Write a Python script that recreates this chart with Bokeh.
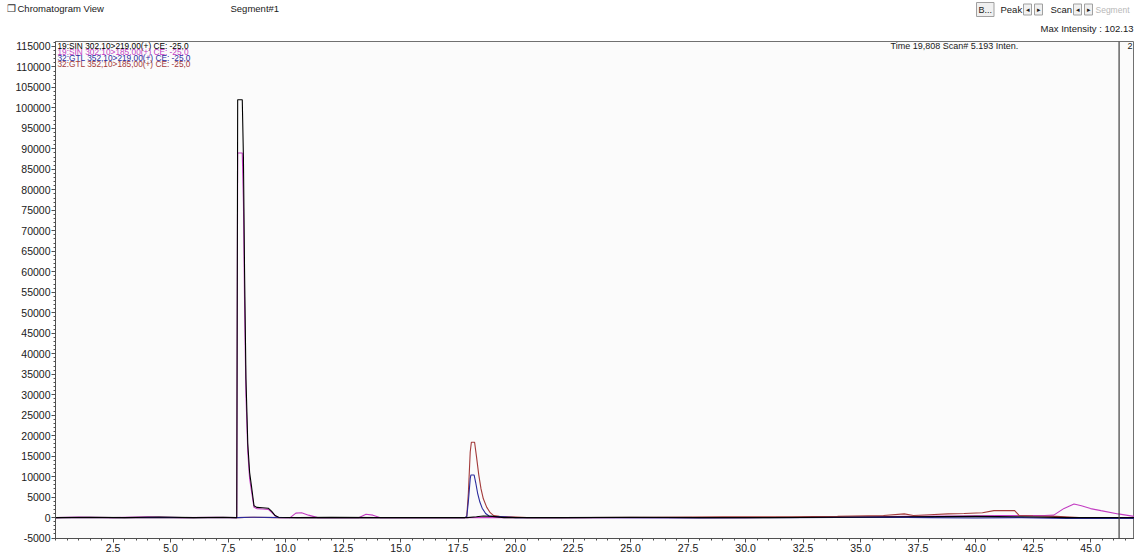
from bokeh.plotting import figure
from bokeh.models import Range1d, FixedTicker, NumeralTickFormatter, Label, Span
from bokeh.embed import file_html
from bokeh.resources import INLINE

# ---------------- data ----------------
sin219_time = [0.0, 1.5, 3.0, 4.5, 6.0, 7.3, 7.88, 7.92, 8.12, 8.17, 8.22, 8.28, 8.36, 8.44, 8.52,
               8.63, 8.75, 9.0, 9.25, 9.4, 9.55, 9.7, 10.5, 12.0, 14.0, 16.0, 17.9, 18.3, 18.6,
               19.0, 19.5, 22.0, 25.0, 28.0, 31.0, 34.0, 37.0, 40.0, 42.0, 44.0, 46.9]
sin219_int = [0, 100, 0, 150, 0, 100, 0, 102000, 102000, 88000, 60000, 34000, 18000, 11000, 7700,
              2900, 2500, 2400, 2300, 1500, 500, 100, 0, 50, 0, 0, 0, 200, 400,
              300, 0, 0, 100, 0, 0, 100, 200, 300, 200, 0, 0]

sin185_time = [0.0, 1.0, 2.5, 4.0, 5.5, 7.0, 7.88, 7.92, 8.12, 8.17, 8.22, 8.28, 8.36, 8.44, 8.52,
               8.63, 8.75, 9.0, 9.25, 9.4, 9.55, 9.7, 10.2, 10.45, 10.7, 11.0, 11.4, 13.2, 13.5,
               13.8, 14.1, 16.0, 17.9, 19.0, 22.0, 26.0, 30.0, 34.0, 37.0, 39.0, 41.0, 42.5, 43.0,
               43.4, 43.85, 44.28, 44.6, 45.0, 45.45, 46.2, 46.9]
sin185_int = [0, 150, 0, 200, 0, 100, 0, 89000, 89000, 77000, 52000, 30000, 16000, 9500, 6500,
              2500, 2200, 2100, 2000, 1300, 400, 0, 0, 1100, 1200, 600, 0, 0, 800,
              600, 0, 0, 0, 0, 0, 0, 0, 100, 300, 400, 500, 500, 500,
              600, 2250, 3300, 2900, 2200, 1700, 900, 300]

gtl219_time = [0.0, 1.0, 2.0, 5.0, 7.9, 8.5, 10.0, 14.0, 17.8, 17.88, 17.95, 18.03, 18.06, 18.2,
               18.27, 18.35, 18.45, 18.55, 18.7, 18.85, 19.0, 19.5, 20.0, 24.0, 28.0, 32.0, 36.0,
               38.0, 40.0, 42.0, 44.0, 46.9]
gtl219_int = [0, 0, 0, 0, 0, 100, 0, 0, 0, 200, 4000, 9500, 10400, 10400,
              8500, 6000, 3800, 2300, 1000, 400, 300, 200, 0, 0, -100, 0, 100,
              0, -100, 0, -200, -200]

gtl185_time = [0.0, 3.0, 6.0, 7.9, 8.6, 9.5, 12.0, 15.0, 17.8, 17.88, 17.95, 18.03, 18.08, 18.22,
               18.3, 18.4, 18.5, 18.6, 18.75, 18.9, 19.05, 19.3, 19.8, 20.5, 23.0, 26.0, 29.0,
               32.0, 34.0, 36.0, 36.9, 37.3, 38.0, 38.8, 39.5, 40.3, 40.8, 41.7, 41.9, 42.5, 43.5,
               44.5, 46.9]
gtl185_int = [0, 0, 0, 0, 100, 0, 0, 0, 0, 300, 6000, 16000, 18400, 18400,
              15000, 10500, 7000, 4600, 2500, 1200, 500, 300, 200, 0, 0, 100, 200,
              200, 300, 500, 900, 500, 700, 900, 1000, 1200, 1700, 1700, 500, 400, 300,
              0, 0]

trace_labels = ["19:SIN 302,10>219,00(+) CE: -25,0",
                "19:SIN 302,10>185,00(+) CE: -25,0",
                "32:GTL 352,10>219,00(+) CE: -25,0",
                "32:GTL 352,10>185,00(+) CE: -25,0"]
trace_colors = ["#000000", "#c23cc2", "#2a2a9c", "#a33a3a"]

x_major_ticks = [2.5, 5.0, 7.5, 10.0, 12.5, 15.0, 17.5, 20.0, 22.5, 25.0, 27.5, 30.0, 32.5,
                 35.0, 37.5, 40.0, 42.5, 45.0]
y_major_ticks = [-5000, 0, 5000, 10000, 15000, 20000, 25000, 30000, 35000, 40000, 45000, 50000,
                 55000, 60000, 65000, 70000, 75000, 80000, 85000, 90000, 95000, 100000, 105000,
                 110000, 115000]

cursor_time = 46.24

FONT = "Liberation Sans"
W = 1134
HEAD_H = 41

# ---------------- header strip (separate root, full width frame) ----------------
h = figure(width=W, height=HEAD_H, output_backend="svg", toolbar_location=None,
           x_range=Range1d(0, W), y_range=Range1d(HEAD_H, 0),
           x_axis_type=None, y_axis_type=None,
           min_border_left=0, min_border_right=0, min_border_top=0, min_border_bottom=0)
h.outline_line_color = None
h.background_fill_color = "#ffffff"
h.border_fill_color = "#ffffff"
h.grid.visible = False


def htxt(text, X, Y, size="9.5px", color="#202020", align="left", **kw):
    h.add_layout(Label(x=X, y=Y, text=text, text_font=FONT, text_font_size=size,
                       text_color=color, text_align=align, text_baseline="middle", **kw))


box = dict(border_line_color="#a0a0a0", background_fill_color="#f0f0f0", padding=2)
htxt("\u2750", 6, 8, size="10px", color="#303030")
htxt("Chromatogram View", 17, 8)
htxt("Segment#1", 230, 8)
htxt("B...", 976, 9, size="9px", **box)
htxt("Peak", 1000, 9)
htxt("\u25c2", 1023, 9, size="7px", **box)
htxt("\u25b8", 1034, 9, size="7px", **box)
htxt("Scan", 1050, 9)
htxt("\u25c2", 1073, 9, size="7px", **box)
htxt("\u25b8", 1084, 9, size="7px", **box)
htxt("Segment", 1095, 9, size="8.5px", color="#b8b8b8")
htxt("Max Intensity : 102.13", W - 1, 28, align="right")

# ---------------- main chart ----------------
p = figure(width=W, height=554 - HEAD_H, output_backend="svg", toolbar_location=None,
           x_range=Range1d(0, 46.91), y_range=Range1d(-5100, 116200),
           min_border_left=55, min_border_right=0, min_border_top=0, min_border_bottom=16)
p.background_fill_color = "#fbfbfb"
p.border_fill_color = "#ffffff"
p.outline_line_color = "#707070"
p.grid.visible = False

p.xaxis.ticker = FixedTicker(ticks=x_major_ticks,
                             minor_ticks=[i * 0.5 for i in range(0, 95)])
p.yaxis.ticker = FixedTicker(ticks=y_major_ticks,
                             minor_ticks=[-5000 + 1000 * i for i in range(0, 122)])
p.xaxis.formatter = NumeralTickFormatter(format="0.0")
p.yaxis.formatter = NumeralTickFormatter(format="0")
for ax in (p.xaxis, p.yaxis):
    ax.axis_line_color = "#505050"
    ax.major_tick_line_color = "#505050"
    ax.minor_tick_line_color = "#505050"
    ax.major_tick_in = 0
    ax.minor_tick_in = 0
    ax.major_tick_out = 4
    ax.minor_tick_out = 2
    ax.major_label_text_font = FONT
    ax.major_label_text_font_size = "10.5px"
    ax.major_label_text_color = "#202020"
p.xaxis.major_label_standoff = 1
p.yaxis.major_label_standoff = 1

series = [(sin185_time, sin185_int, trace_colors[1]),
          (gtl185_time, gtl185_int, trace_colors[3]),
          (gtl219_time, gtl219_int, trace_colors[2]),
          (sin219_time, sin219_int, trace_colors[0])]
for t, v, c in series:
    p.line(t, v, line_color=c, line_width=1.1)

p.add_layout(Span(location=cursor_time, dimension="height", line_color="#404040", line_width=1.2))

FB = 538   # frame bottom in page pixels
FL = 55    # frame left in page pixels


def lab(text, X, Y, size="9px", color="#202020", align="left", **kw):
    p.add_layout(Label(x=X - FL, y=FB - Y, x_units="screen", y_units="screen", text=text,
                       text_font=FONT, text_font_size=size, text_color=color,
                       text_align=align, text_baseline="middle", **kw))


for i, (t, c) in enumerate(zip(trace_labels, trace_colors)):
    lab(t, 57, 45 + 6 * i, size="8.3px", color=c)

lab("Time   19,808    Scan#  5.193    Inten.", 890, 45, size="9px")
lab("2", 1127, 45, size="9px")

open("out.html", "w").write(file_html((h, p), INLINE))
